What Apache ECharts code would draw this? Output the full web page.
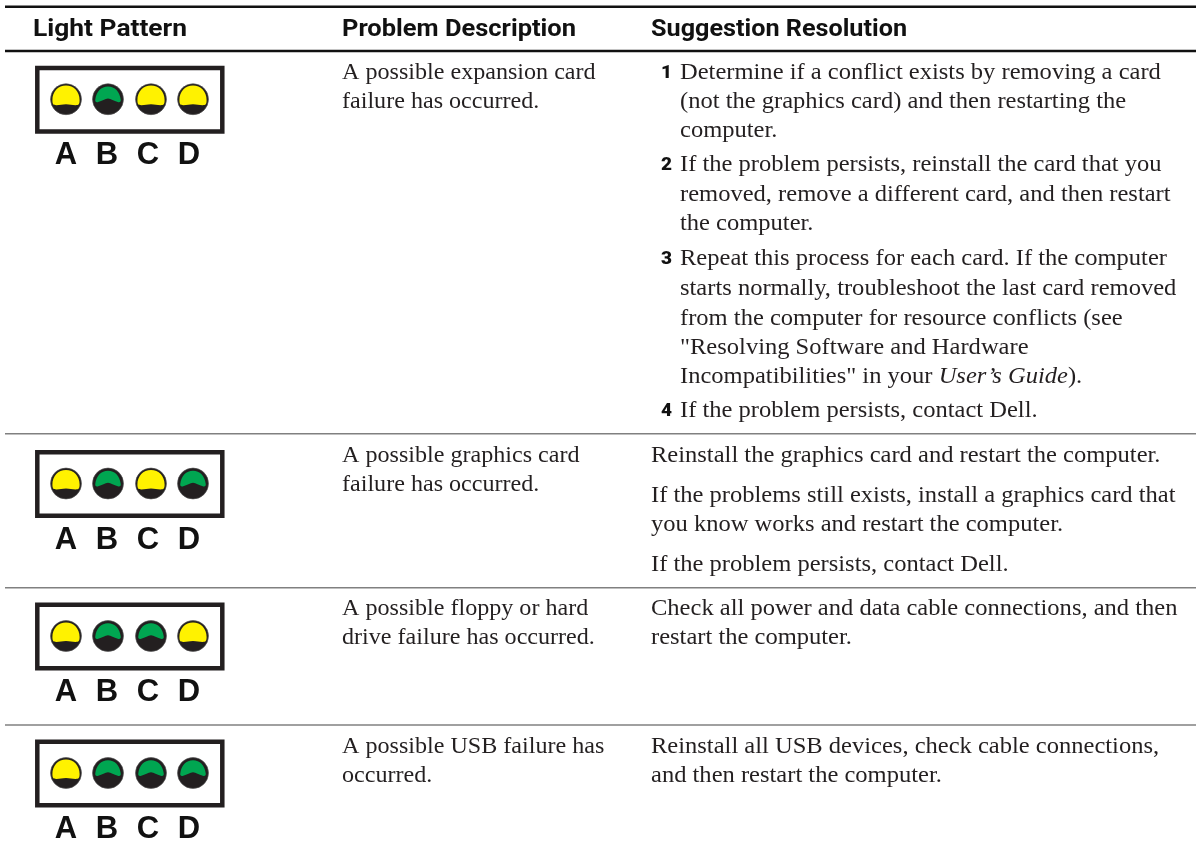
<!DOCTYPE html>
<html><head><meta charset="utf-8">
<style>html,body{margin:0;padding:0;background:#fff}#c{width:1196px;height:854px}</style>
<script src="https://cdn.jsdelivr.net/npm/echarts@6/dist/echarts.min.js"></script>
</head><body><div id="c"></div>
<script>
// ---- content ----
const headers = ['Light Pattern', 'Problem Description', 'Suggestion Resolution'];
const ledLetters = ['A', 'B', 'C', 'D'];
const lightPatterns = [
  ['yellow', 'green', 'yellow', 'yellow'],
  ['yellow', 'green', 'yellow', 'green'],
  ['yellow', 'green', 'green', 'yellow'],
  ['yellow', 'green', 'green', 'green']
];
const problems = [
  ['A possible expansion card', 'failure has occurred.'],
  ['A possible graphics card', 'failure has occurred.'],
  ['A possible floppy or hard', 'drive failure has occurred.'],
  ['A possible USB failure has', 'occurred.']
];
const stepNumbers = ['1', '2', '3', '4'];
const resolutionRow1 = [
  'Determine if a conflict exists by removing a card',
  '(not the graphics card) and then restarting the',
  'computer.',
  'If the problem persists, reinstall the card that you',
  'removed, remove a different card, and then restart',
  'the computer.',
  'Repeat this process for each card. If the computer',
  'starts normally, troubleshoot the last card removed',
  'from the computer for resource conflicts (see',
  '"Resolving Software and Hardware',
  'Incompatibilities" in your {i|User\u2019s Guide}).',
  'If the problem persists, contact Dell.'
];
const resolutionRow2 = [
  'Reinstall the graphics card and restart the computer.',
  'If the problems still exists, install a graphics card that',
  'you know works and restart the computer.',
  'If the problem persists, contact Dell.'
];
const resolutionRow3 = [
  'Check all power and data cable connections, and then',
  'restart the computer.'
];
const resolutionRow4 = [
  'Reinstall all USB devices, check cable connections,',
  'and then restart the computer.'
];

// ---- layout (page units) ----
const W = 1196, H = 854;
const panelTops = [65.7, 450, 602.5, 739.5];
const rowRuleYs = [433.7, 587.7, 725];
const problemYs = [[73, 102], [456, 485], [609, 638], [747, 776]];
const row1Ys = [73, 102, 131, 165, 195, 224, 259, 289, 319, 348, 377, 411];
const row1StepAt = {0: 0, 3: 1, 6: 2, 11: 3};
const row2Ys = [456, 496, 525, 565];
const row3Ys = [609, 638];
const row4Ys = [747, 776];
const SERIF = '"Liberation Serif"';
const headWidths = [154, 234, 256];
const textItems = [];
function addText(t, x, y, kind, w) { textItems.push({t, x, y, kind, w}); }
[33, 342, 651].forEach((x, i) => addText(headers[i], x, 30, 'head', headWidths[i]));
problems.forEach((p, r) => p.forEach((l, i) => addText(l, 342, problemYs[r][i], 'prob')));
resolutionRow1.forEach((l, i) => {
  addText(l, 680, row1Ys[i], 'body');
  if (row1StepAt[i] !== undefined) addText(stepNumbers[row1StepAt[i]], 661, row1Ys[i], 'num');
});
resolutionRow2.forEach((l, i) => addText(l, 651, row2Ys[i], 'body'));
resolutionRow3.forEach((l, i) => addText(l, 651, row3Ys[i], 'body'));
resolutionRow4.forEach((l, i) => addText(l, 651, row4Ys[i], 'body'));

const ledData = [];
lightPatterns.forEach((p, r) => p.forEach((s, i) => ledData.push([r, i, s === 'yellow' ? 1 : 0])));
const letterData = [];
panelTops.forEach((_, r) => ledLetters.forEach((_, i) => letterData.push([r, i])));
const ledXs = [66, 108, 151, 193];
const letterXs = [66, 107, 148, 189];
const kinds = {
  head: {font: 'bold 24px Roboto', sx: 1, fill: '#111'},
  body: {font: '24px ' + SERIF, sx: 1.022, fill: '#231f20'},
  prob: {font: '24px ' + SERIF, sx: 1.004, fill: '#231f20'},
  num: {font: '900 19px Roboto', sx: 1.0, fill: '#111'}
};
const measureCtx = document.createElement('canvas').getContext('2d');
function scaleFor(item, k) {
  if (!item.w) return k.sx;
  measureCtx.font = k.font;
  return item.w / measureCtx.measureText(item.t).width;
}

const chart = echarts.init(document.getElementById('c'), null, {renderer: 'canvas'});
chart.setOption({
  animation: false,
  backgroundColor: '#fff',
  grid: {left: 0, right: 0, top: 0, bottom: 0},
  xAxis: {type: 'value', min: 0, max: W, show: false},
  yAxis: {type: 'value', min: 0, max: H, inverse: true, show: false},
  series: [
    { // rules
      type: 'custom', coordinateSystem: 'cartesian2d', silent: true,
      data: [[6.7, 2.5], [51, 2.5]].concat(rowRuleYs.map(y => [y, 1.6])),
      encode: {x: [], y: 0},
      renderItem(p, api) {
        const y = api.coord([0, api.value(0)])[1];
        return {type: 'rect', shape: {x: 5, y: y - api.value(1) / 2, width: W - 5, height: api.value(1)},
          style: {fill: p.dataIndex < 2 ? '#111' : '#808080'}};
      }
    },
    { // panels
      type: 'custom', coordinateSystem: 'cartesian2d', silent: true,
      data: panelTops.map(y => [37.3, y + 2.25]),
      renderItem(p, api) {
        const c = api.coord([api.value(0), api.value(1)]);
        return {type: 'rect', shape: {x: c[0], y: c[1], width: 185, height: 63.6},
          style: {fill: '#fff', stroke: '#231f20', lineWidth: 4.5}};
      }
    },
    { // leds
      type: 'custom', coordinateSystem: 'cartesian2d', silent: true,
      data: ledData, z: 3,
      renderItem(p, api) {
        const r = api.value(0), i = api.value(1), yellow = api.value(2) === 1;
        const c = api.coord([ledXs[i], panelTops[r] + 33.5]);
        const d = yellow
          ? 'M-14 1C-14 -8 -8 -14 0 -14C8 -14 14 -8 14 1C14 5 13 6 10 6C6 6 4 5 0 5C-4 5 -6 6 -10 6C-13 6 -14 5 -14 1Z'
          : 'M-13 0C-12 -8 -7 -13 0 -13C7 -13 12 -8 13 0C13.5 2.5 12 3 10 2.5C6 1.5 3 -1 0 -1C-3 -1 -6 1.5 -10 2.5C-12 3 -13.5 2.5 -13 0Z';
        return {type: 'group', x: c[0], y: c[1], children: [
          {type: 'circle', shape: {cx: 0, cy: 0, r: 15.5}, style: {fill: '#231f20', stroke: '#555', lineWidth: 0.6}},
          {type: 'path', shape: {pathData: d, layout: 'cover', x: yellow ? -13.6 : -12.8, y: yellow ? -13.6 : -12.8, width: yellow ? 27.2 : 25.6, height: yellow ? 19.6 : 15.8},
            style: {fill: yellow ? '#fff200' : '#00a651'}}
        ]};
      }
    },
    { // letters
      type: 'custom', coordinateSystem: 'cartesian2d', silent: true,
      data: letterData, z: 3,
      renderItem(p, api) {
        const r = api.value(0), i = api.value(1);
        const c = api.coord([letterXs[i], panelTops[r] + 90]);
        return {type: 'text', x: c[0], y: c[1], style: {text: ledLetters[i], font: 'bold 31px "Liberation Sans"',
          fill: '#111', align: 'center', verticalAlign: 'middle'}};
      }
    },
    { // text lines
      type: 'custom', coordinateSystem: 'cartesian2d', silent: true,
      data: textItems.map((t, i) => [t.x, t.y, i]), z: 4,
      renderItem(p, api) {
        const item = textItems[api.value(2)];
        const k = kinds[item.kind];
        const c = api.coord([api.value(0), api.value(1)]);
        return {type: 'text', x: c[0], y: c[1], scaleX: scaleFor(item, k), style: {text: item.t, font: k.font, fill: k.fill,
          align: 'left', verticalAlign: 'middle',
          rich: {i: {font: 'italic 24px ' + SERIF, fill: k.fill}}}};
      }
    }
  ]
});
</script></body></html>
